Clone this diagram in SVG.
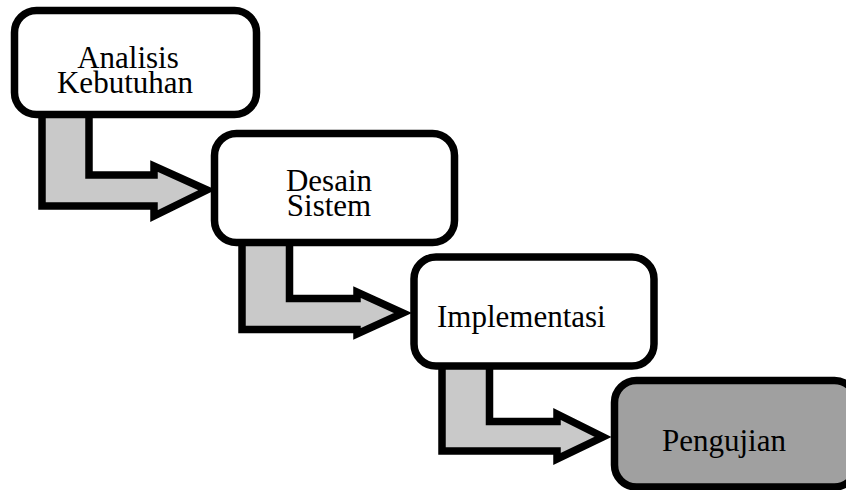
<svg xmlns="http://www.w3.org/2000/svg" width="846" height="490" viewBox="0 0 846 490">
  <style>
    .box { fill: #ffffff; stroke: #000000; stroke-width: 7.5; }
    .box.dark { fill: #a0a0a0; }
    .arrow { fill: #c9c9c9; stroke: #000000; stroke-width: 7.5; stroke-linejoin: miter; }
    .label { font-family: "Liberation Serif", "Times New Roman", serif; font-size: 31px; fill: #000000; }
    .mid { text-anchor: middle; }
  </style>
  <rect x="0" y="0" width="846" height="490" fill="#ffffff"/>
  <g id="connectors">
    <path class="arrow" d="M42,112 L42,206 L154,206 L154,216 L207,190 L154,166 L154,175 L89,175 L89,112 Z"/>
    <path class="arrow" d="M242,240 L242,329.5 L357,329.5 L357,334 L403,313 L357,292 L357,298.5 L289.5,298.5 L289.5,240 Z"/>
    <path class="arrow" d="M442,364 L442,451 L557,451 L557,459 L603,437 L557,414 L557,421.5 L489.5,421.5 L489.5,364 Z"/>
  </g>
  <g id="node-analisis">
    <rect class="box" x="14.5" y="10.5" width="242" height="104" rx="22" ry="22"/>
    <text class="label mid" x="128" y="68">Analisis</text>
    <text class="label mid" x="125" y="93">Kebutuhan</text>
  </g>
  <g id="node-desain">
    <rect class="box" x="214.5" y="133.5" width="240" height="109" rx="22" ry="22"/>
    <text class="label mid" x="329" y="191">Desain</text>
    <text class="label mid" x="329" y="216">Sistem</text>
  </g>
  <g id="node-implementasi">
    <rect class="box" x="414" y="257" width="240" height="109" rx="22" ry="22"/>
    <text class="label" x="437" y="327">Implementasi</text>
  </g>
  <g id="node-pengujian">
    <rect class="box dark" x="614.5" y="380.5" width="242" height="106.5" rx="22" ry="22"/>
    <text class="label" x="662" y="451">Pengujian</text>
  </g>
</svg>
